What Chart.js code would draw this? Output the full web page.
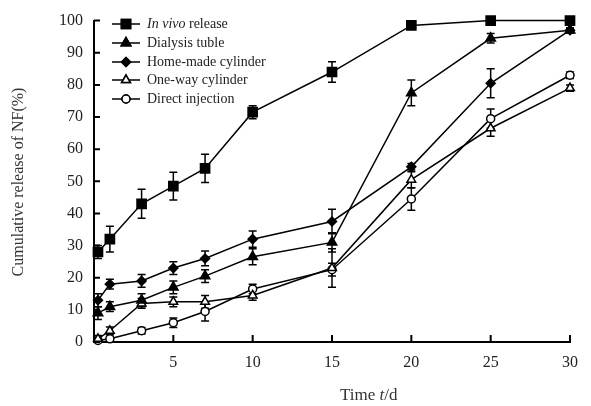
<!DOCTYPE html>
<html>
<head>
<meta charset="utf-8">
<script src="https://cdn.jsdelivr.net/npm/chart.js@4.4.0/dist/chart.umd.min.js"></script>
<style>
  html, body { margin: 0; padding: 0; background: #fff; }
  #wrap { width: 591px; height: 406px; }
</style>
</head>
<body>
<div id="wrap"><canvas id="releaseChart" width="591" height="406"></canvas></div>
<script>
// sampling days and cumulative release (%)
const days = [0.25, 1, 3, 5, 7, 10, 15, 20, 25, 30];

const inVivo = [28, 32, 43, 48.5, 54, 71.5, 84, 98.5, 100, 100];
const inVivoErr = [2, 4, 4.5, 4.3, 4.4, 2, 3.2, 0.5, 0.5, 1];

const dialysis = [9, 11, 13, 17, 20.5, 26.5, 31, 77.5, 94.5, 97];
const dialysisErr = [2, 1.5, 2, 2, 2, 2.5, 3, 4, 1.5, 0.8];

const homeMade = [13, 18, 19, 23, 26, 32, 37.5, 54.5, 80.5, 97];
const homeMadeErr = [2, 1.5, 2, 2, 2.3, 2.5, 3.8, 1, 4.5, 0.8];

const oneWay = [1, 3.5, 12, 12.5, 12.5, 14.5, 23, 50.5, 66.5, 79];
const oneWayErr = [1, 1.2, 1.5, 1.5, 2, 1.5, 6, 2.5, 2.5, 1];

const direct = [0.5, 1, 3.5, 6, 9.5, 16.5, 22.5, 44.5, 69.5, 83];
const directErr = [0.5, 0.8, 1, 1.5, 3, 1.5, 2, 3.5, 3, 1];

const yTicks = [0, 10, 20, 30, 40, 50, 60, 70, 80, 90, 100];
const xTicks = [5, 10, 15, 20, 25, 30];

const SERIF = '"Liberation Serif", "DejaVu Serif", serif';
const INK = '#222';

const toPoints = (vals) => vals.map((v, i) => ({ x: days[i], y: v }));

const makeSet = (label, vals, errs, style, radius, filled) => ({
    label: label,
    data: toPoints(vals),
    errors: errs,
    borderColor: '#000',
    borderWidth: 1.5,
    pointStyle: style,
    pointRadius: radius,
    pointBorderWidth: 1.5,
    pointBorderColor: '#000',
    pointBackgroundColor: filled ? '#000' : '#fff',
    tension: 0,
    fill: false,
    clip: false
});

const datasets = [
    makeSet('In vivo release', inVivo, inVivoErr, 'rect', 6.5, true),
    makeSet('Dialysis tuble', dialysis, dialysisErr, 'triangle', 5.5, true),
    makeSet('Home-made cylinder', homeMade, homeMadeErr, 'rectRot', 4.5, true),
    makeSet('One-way cylinder', oneWay, oneWayErr, 'triangle', 5, false),
    makeSet('Direct injection', direct, directErr, 'circle', 4, false)
];

// vertical error bars with caps, drawn under the markers
const errorBars = {
    id: 'errorBars',
    beforeDatasetsDraw(chart) {
        const { ctx, scales: { x, y } } = chart;
        ctx.save();
        ctx.strokeStyle = '#000';
        ctx.lineWidth = 1.5;
        chart.data.datasets.forEach(ds => {
            ds.data.forEach((p, i) => {
                const e = ds.errors[i];
                const px = x.getPixelForValue(p.x);
                const top = y.getPixelForValue(p.y + e);
                const bot = y.getPixelForValue(p.y - e);
                ctx.beginPath();
                ctx.moveTo(px, top); ctx.lineTo(px, bot);
                ctx.moveTo(px - 4, top); ctx.lineTo(px + 4, top);
                ctx.moveTo(px - 4, bot); ctx.lineTo(px + 4, bot);
                ctx.stroke();
            });
        });
        ctx.restore();
    }
};

// tick marks point into the plot, as in the original figure
const inwardTicks = {
    id: 'inwardTicks',
    afterDraw(chart) {
        const { ctx, chartArea: a, scales: { x, y } } = chart;
        ctx.save();
        ctx.strokeStyle = '#000';
        ctx.lineWidth = 2;
        ctx.beginPath();
        yTicks.forEach(v => {
            const py = y.getPixelForValue(v);
            ctx.moveTo(a.left, py); ctx.lineTo(a.left + 6, py);
        });
        xTicks.forEach(v => {
            const px = x.getPixelForValue(v);
            ctx.moveTo(px, a.bottom); ctx.lineTo(px, a.bottom - 7);
        });
        ctx.stroke();
        ctx.restore();
    }
};

// legend and axis titles (need mixed italic text)
const labels = {
    id: 'labels',
    afterDraw(chart) {
        const { ctx } = chart;
        ctx.save();
        ctx.textBaseline = 'middle';

        const rowY = [24, 43, 62, 80, 99];
        chart.data.datasets.forEach((ds, i) => {
            const yy = rowY[i];
            ctx.strokeStyle = '#000';
            ctx.lineWidth = 1.5;
            ctx.beginPath();
            ctx.moveTo(112, yy); ctx.lineTo(140, yy);
            ctx.stroke();
            ctx.fillStyle = ds.pointBackgroundColor;
            Chart.helpers.drawPoint(ctx, {
                pointStyle: ds.pointStyle,
                radius: ds.pointRadius,
                borderWidth: ds.pointBorderWidth,
                rotation: 0
            }, 126, yy);
            ctx.fill();
            ctx.stroke();
            ctx.fillStyle = INK;
            ctx.textAlign = 'left';
            if (i === 0) {
                ctx.font = 'italic 14px ' + SERIF;
                ctx.fillText('In vivo', 147, yy);
                const w = ctx.measureText('In vivo ').width;
                ctx.font = '14px ' + SERIF;
                ctx.fillText('release', 147 + w, yy);
            } else {
                ctx.font = '14px ' + SERIF;
                ctx.fillText(ds.label, 147, yy);
            }
        });

        // x title: Time t/d
        ctx.fillStyle = '#333';
        ctx.font = '17px ' + SERIF;
        let tx = 340;
        const ty = 396;
        ctx.fillText('Time ', tx, ty);
        tx += ctx.measureText('Time ').width;
        ctx.font = 'italic 17px ' + SERIF;
        ctx.fillText('t', tx, ty);
        tx += ctx.measureText('t').width;
        ctx.font = '17px ' + SERIF;
        ctx.fillText('/d', tx, ty);

        // y title
        ctx.font = '16px ' + SERIF;
        ctx.translate(19, 182);
        ctx.rotate(-Math.PI / 2);
        ctx.textAlign = 'center';
        ctx.fillText('Cumulative release of NF(%)', 0, 0);
        ctx.restore();
    }
};

new Chart(document.getElementById('releaseChart'), {
    type: 'line',
    data: { datasets: datasets },
    options: {
        responsive: false,
        animation: false,
        layout: { padding: { left: 0, right: 21, top: 20, bottom: 0 } },
        plugins: {
            legend: { display: false },
            tooltip: { enabled: false }
        },
        scales: {
            x: {
                type: 'linear',
                min: 0,
                max: 30,
                afterFit(scale) { scale.height = 64; },
                afterBuildTicks(scale) { scale.ticks = xTicks.map(v => ({ value: v })); },
                grid: { drawOnChartArea: false, drawTicks: false },
                border: { color: '#000', width: 2 },
                ticks: { color: INK, padding: 11, font: { family: SERIF, size: 16 } }
            },
            y: {
                min: 0,
                max: 100,
                afterFit(scale) { scale.width = 94; },
                afterBuildTicks(scale) { scale.ticks = yTicks.map(v => ({ value: v })); },
                grid: { drawOnChartArea: false, drawTicks: false },
                border: { color: '#000', width: 2 },
                ticks: { color: INK, padding: 11, font: { family: SERIF, size: 16 } }
            }
        }
    },
    plugins: [errorBars, inwardTicks, labels]
});
</script>
</body>
</html>
